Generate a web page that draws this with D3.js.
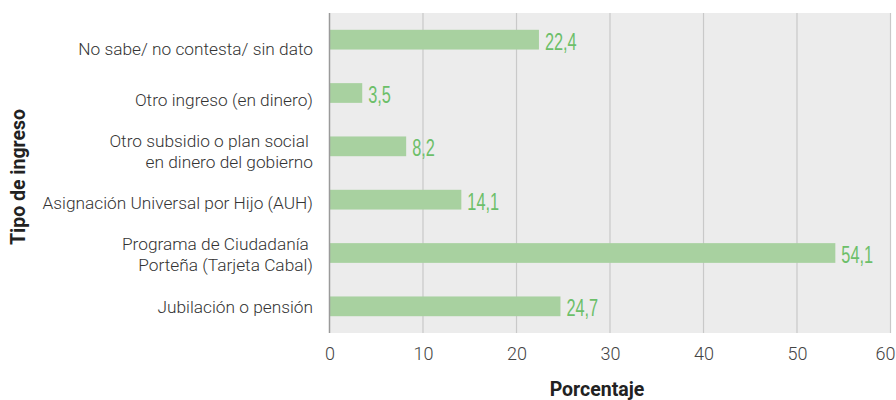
<!DOCTYPE html>
<html><head><meta charset="utf-8">
<script src="https://cdn.jsdelivr.net/npm/d3@7"></script>
<style>body{margin:0;background:#fff}svg{display:block}</style>
</head><body>
<svg id="chart" width="896" height="400"></svg>
<script>
const categories = [
  ["No sabe/ no contesta/ sin dato"],
  ["Otro ingreso (en dinero)"],
  ["Otro subsidio o plan social ", "en dinero del gobierno"],
  ["Asignación Universal por Hijo (AUH)"],
  ["Programa de Ciudadanía ", "Porteña (Tarjeta Cabal)"],
  ["Jubilación o pensión"]
];
const values = [22.4, 3.5, 8.2, 14.1, 54.1, 24.7];
const xTicks = [0, 10, 20, 30, 40, 50, 60];
const xTitle = "Porcentaje";
const yTitle = "Tipo de ingreso";

(function () {
const svg = d3.select("#chart");
const pL = 329.5, pR = 890.5, pT = 13, pB = 333;
const keys = categories.map(c => c.join(" "));
const data = keys.map((k, i) => ({key: k, lines: categories[i], value: values[i]}));

const x = d3.scaleLinear().domain([0, 60]).range([pL, pR]);
const y = d3.scaleBand().domain(keys).range([pT, pB]).paddingInner(0.63).paddingOuter(0.315);
const yLab = d3.scalePoint().domain(keys).range([48.5, 306.5]);

svg.append("rect").attr("x", pL).attr("y", pT).attr("width", 891 - pL).attr("height", pB - pT).attr("fill", "#ececec");

svg.append("g").selectAll("line").data(xTicks.slice(1)).join("line")
  .attr("x1", d => x(d)).attr("x2", d => x(d)).attr("y1", pT).attr("y2", pB)
  .attr("stroke", "#c9c9c9").attr("stroke-width", 1.2);

svg.append("g").selectAll("rect").data(data).join("rect")
  .attr("x", x(0)).attr("y", d => y(d.key)).attr("width", d => x(d.value) - x(0)).attr("height", y.bandwidth())
  .attr("fill", "#a8d1a0");

svg.append("line").attr("x1", pL).attr("x2", pL).attr("y1", pT).attr("y2", pB)
  .attr("stroke", "#9a9a9a").attr("stroke-width", 1.5);

svg.append("g").selectAll("text").data(data).join("text")
  .attr("transform", d => `translate(${x(d.value) + 6},${y(d.key) + y.bandwidth() / 2 + 10}) scale(0.68,1)`)
  .attr("font-family", "'Liberation Sans', Arial, sans-serif")
  .attr("font-size", 24).attr("fill", "#6cbf69")
  .text(d => d3.format(".1f")(d.value).replace(".", ","));

const lab = svg.append("g").attr("font-family", "Roboto, sans-serif").attr("font-weight", 300)
  .attr("font-size", 17.3).attr("fill", "#333").attr("text-anchor", "end");
data.forEach(d => {
  const n = d.lines.length;
  d.lines.forEach((line, j) => {
    lab.append("text").attr("x", 313).attr("y", yLab(d.key) + (j - (n - 1) / 2) * 21)
      .attr("dy", "0.35em").style("white-space", "pre").text(line);
  });
});

const xAxis = d3.axisBottom(x).tickValues(xTicks).tickSize(0).tickPadding(14);
const gx = svg.append("g").attr("transform", `translate(0,${pB})`).call(xAxis);
gx.select(".domain").remove();
gx.selectAll("text").attr("font-family", "Roboto, sans-serif").attr("font-weight", 300)
  .attr("font-size", 18).attr("fill", "#444");
gx.selectAll("text").filter(d => d === xTicks[xTicks.length - 1])
  .attr("text-anchor", "end").attr("dx", 4.5);

svg.append("text").attr("x", 597).attr("y", 396).attr("text-anchor", "middle")
  .attr("font-family", "Roboto, sans-serif").attr("font-weight", 700).attr("font-size", 19.5).attr("fill", "#222")
  .text(xTitle);

svg.append("text").attr("transform", "translate(25,177) rotate(-90)").attr("text-anchor", "middle")
  .attr("font-family", "Roboto, sans-serif").attr("font-weight", 700).attr("font-size", 19.5).attr("fill", "#222")
  .text(yTitle);
})();
</script>
</body></html>
